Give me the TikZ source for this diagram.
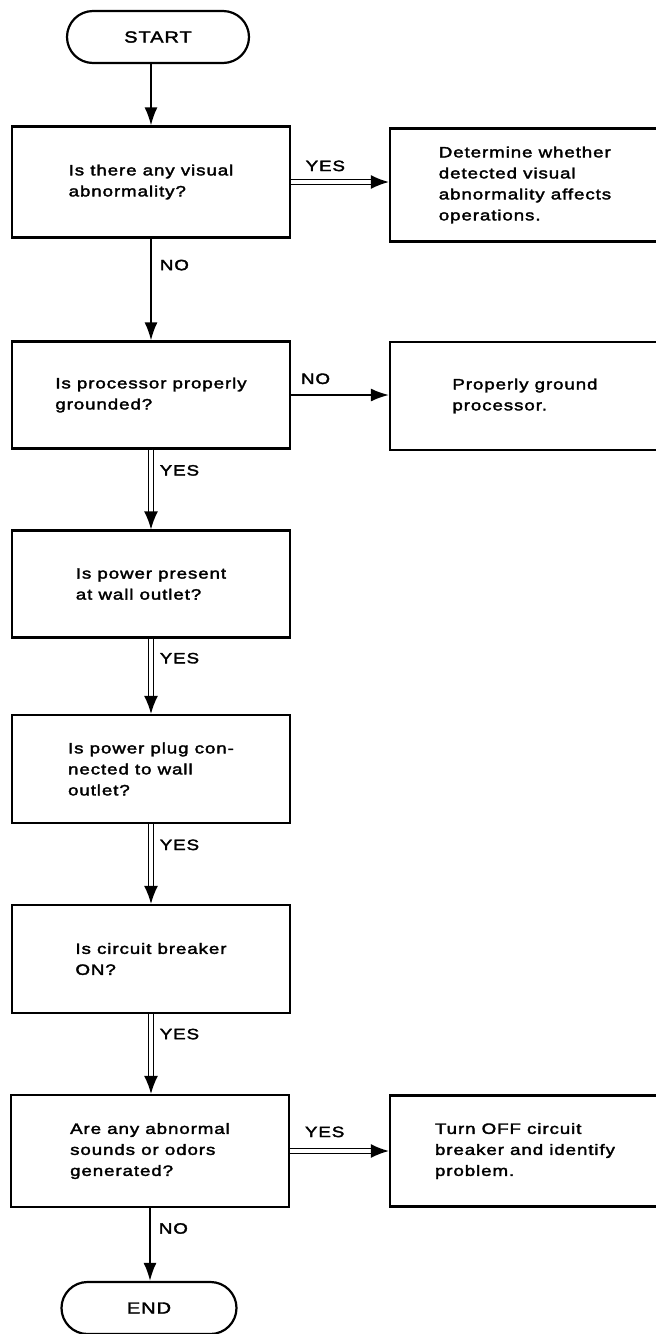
\documentclass[tikz,border=0pt]{standalone}
\usepackage{fontspec}
\setmainfont[FakeStretch=1.25,LetterSpace=6,FakeBold=2.2]{Liberation Sans}
\usetikzlibrary{arrows.meta,shapes.misc}
\begin{document}
\begin{tikzpicture}[x=1pt,y=-1pt,
    font=\fontsize{15}{21}\selectfont,
    box/.style={draw, line width=2.2pt, rectangle, minimum width=278pt, minimum height=107pt, align=left, inner sep=0pt},
    sidebox/.style={box, minimum width=270pt},
    term/.style={draw, line width=2.2pt, rounded rectangle, minimum width=182pt, minimum height=52pt, inner sep=0pt, font=\fontsize{16}{21}\selectfont},
    noarrow/.style={line width=1.8pt, -{Latex[length=18pt,width=13pt]}},
    yesarrow/.style={line width=1.6pt, double, double distance=3.2pt, -{Latex[length=18pt,width=14pt]}},
    lbl/.style={inner sep=0pt}]
    \useasboundingbox (0,0) rectangle (656,1334);

    \node[term] (start) at (158,37) {START};
    \node[box, minimum height=111pt] (q1) at (151,182) {Is there any visual\\abnormality?};
    \node[sidebox, minimum height=113pt] (a1) at (525,185) {Determine whether\\detected visual\\abnormality affects\\operations.};
    \node[box] (q2) at (151,395) {Is processor properly\\grounded?};
    \node[sidebox, minimum height=108pt] (a2) at (525,396) {Properly ground\\processor.};
    \node[box] (q3) at (151,584) {Is power present\\at wall outlet?};
    \node[box, minimum height=108pt] (q4) at (151,769) {Is power plug con-\\nected to wall\\outlet?};
    \node[box, minimum height=108pt] (q5) at (151,959) {Is circuit breaker\\ON?};
    \node[box, minimum height=112pt] (q6) at (150,1151) {Are any abnormal\\sounds or odors\\generated?};
    \node[sidebox, minimum height=111pt] (a6) at (525,1151) {Turn OFF circuit\\breaker and identify\\problem.};
    \node[term, minimum width=175pt] (end) at (149,1308) {END};

    \draw[noarrow] (start.south -| q1.north) -- (q1.north);
    \draw[yesarrow] (q1.east) -- node[lbl, pos=0.35, above=10pt] {YES} (q1.east -| a1.west);
    \draw[noarrow] (q1.south) -- node[lbl, pos=0.26, right=8pt] {NO} (q2.north);
    \draw[noarrow] (q2.east) -- node[lbl, pos=0.25, above=10pt] {NO} (q2.east -| a2.west);
    \draw[yesarrow] (q2.south) -- node[lbl, pos=0.26, right=8pt] {YES} (q3.north);
    \draw[yesarrow] (q3.south) -- node[lbl, pos=0.26, right=8pt] {YES} (q4.north);
    \draw[yesarrow] (q4.south) -- node[lbl, pos=0.26, right=8pt] {YES} (q5.north);
    \draw[yesarrow] (q5.south) -- node[lbl, pos=0.25, right=8pt] {YES} (q5.south |- q6.north);
    \draw[yesarrow] (q6.east) -- node[lbl, pos=0.35, above=13pt] {YES} (q6.east -| a6.west);
    \draw[noarrow] (q6.south) -- node[lbl, pos=0.28, right=8pt] {NO} (q6.south |- end.north);
\end{tikzpicture}
\end{document}
